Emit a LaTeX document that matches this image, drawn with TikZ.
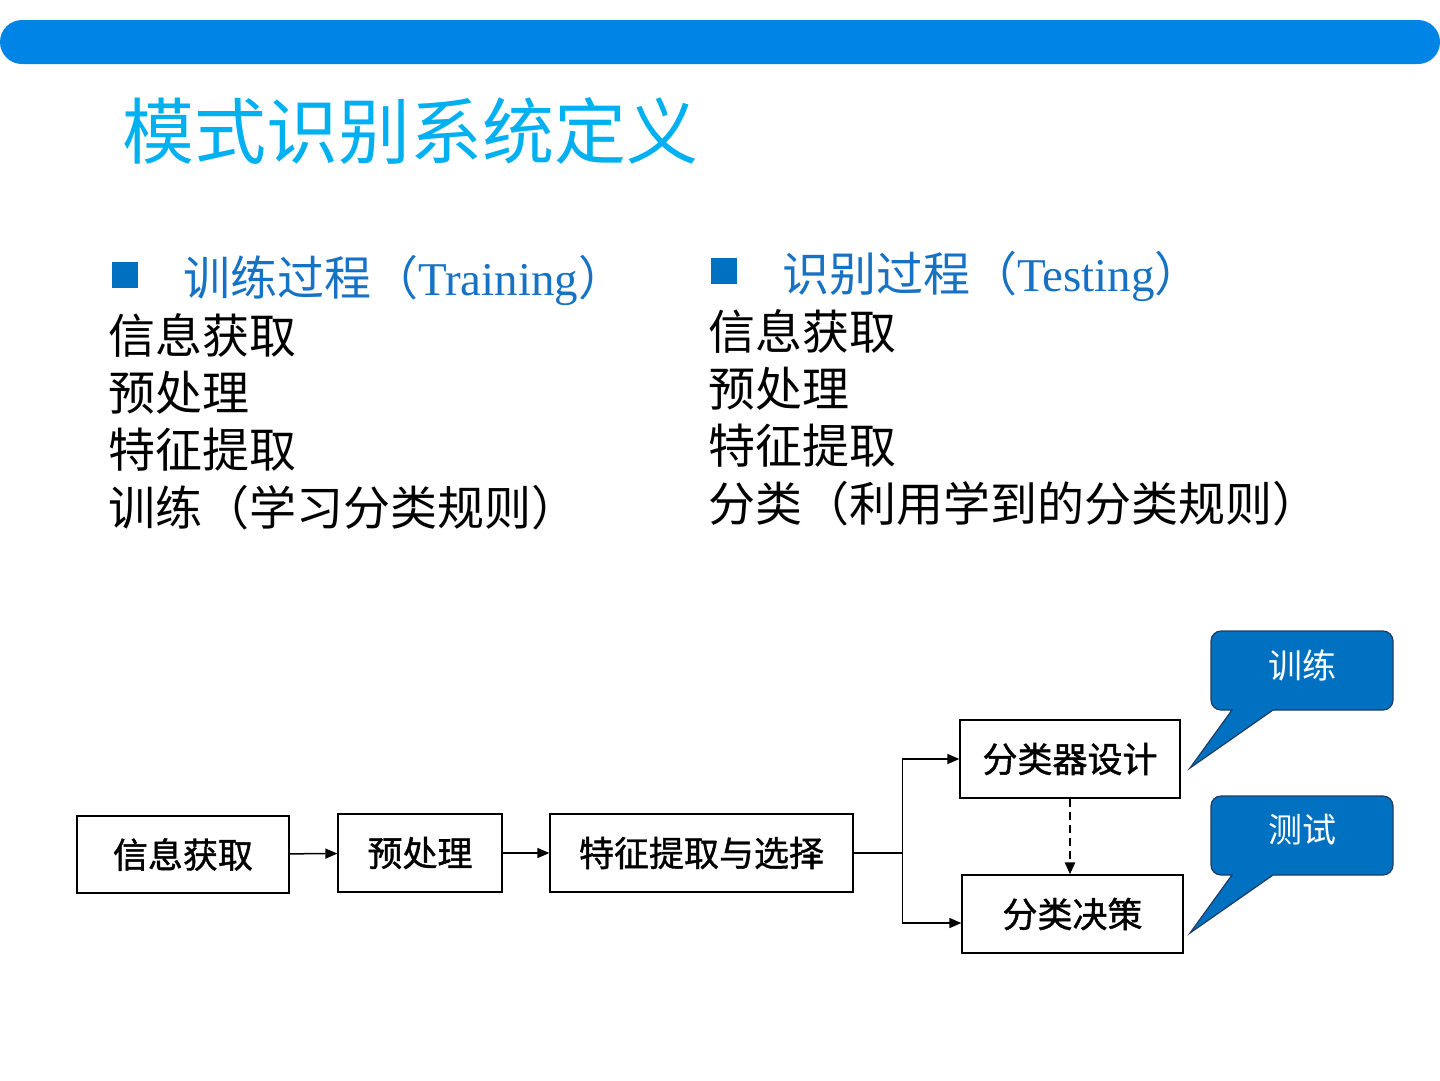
\documentclass[tikz,border=0pt]{standalone}
\usepackage{fontspec}
\setmainfont{Liberation Serif}
\newfontfamily\cjk{Noto Sans CJK SC}
\newfontfamily\cjkmid{Noto Sans CJK SC}[FakeBold=1.2]
\usetikzlibrary{arrows.meta,positioning}
\definecolor{barblue}{RGB}{0,132,230}
\definecolor{titleblue}{RGB}{0,176,240}
\definecolor{headblue}{RGB}{22,114,196}
\definecolor{tipblue}{RGB}{0,112,192}
\definecolor{tipedge}{RGB}{30,60,100}
\newcommand{\listfont}{\cjk\fontsize{47}{57}\selectfont}
\newcommand{\boxfont}{\cjkmid\fontsize{35}{42}\selectfont}

\tikzset{
  stage/.style={draw,line width=1.3pt,inner sep=0pt,font=\boxfont},
  item/.style={anchor=west,inner sep=0pt,font=\listfont},
  head/.style={item,text=headblue},
  bullet/.style={fill=tipblue,inner sep=0pt,minimum size=26pt},
  flow/.style={-{Triangle[length=12pt,width=10pt]},line width=1.5pt},
  callout/.style={draw=tipedge,fill=tipblue,line width=1.2pt},
  tiptext/.style={text=white,inner sep=0pt,font=\cjk\fontsize{34}{40}\selectfont},
}

\begin{document}
\begin{tikzpicture}[x=1pt,y=-1pt]
  \useasboundingbox (0,0) rectangle (1440,1080);
  % top band and title
  \fill[barblue,rounded corners=22] (0,20) rectangle (1440,64);
  \node[item,text=titleblue,font=\cjk\fontsize{72}{80}\selectfont] (title) at (122,131) {模式识别系统定义};

  % training column
  \node[bullet] (bulletL) at (125,275) {};
  \node[head] (headL) at (183,280) {训练过程（{\rmfamily Training}）};
  \node[item] (l1) at (108,335) {信息获取};
  \node[item] (l2) at (108,393) {预处理};
  \node[item] (l3) at (108,450) {特征提取};
  \node[item] (l4) at (108,508) {训练（学习分类规则）};

  % testing column
  \node[bullet] (bulletR) at (723.5,270.5) {};
  \node[head] (headR) at (782,276) {识别过程（{\rmfamily Testing}）};
  \node[item] (r1) at (708,331) {信息获取};
  \node[item] (r2) at (708,389) {预处理};
  \node[item] (r3) at (708,446) {特征提取};
  \node[item] (r4) at (708,504) {分类（利用学到的分类规则）};

  % block diagram
  \node[stage,minimum width=212,minimum height=77] (acquire) at (183,854.5) {信息获取};
  \node[stage,minimum width=164,minimum height=78] (prep) at (420,853) {预处理};
  \node[stage,minimum width=303,minimum height=78] (feature) at (701.5,853) {特征提取与选择};
  \node[stage,minimum width=220,minimum height=78] (design) at (1070,759) {分类器设计};
  \node[stage,minimum width=221,minimum height=78] (decide) at (1072.5,914) {分类决策};

  \draw[flow] (acquire) -- (prep);
  \draw[flow] (prep) -- (feature);
  \draw[line width=1.5pt] (feature.east) -- ++(49,0) coordinate (split);
  \draw[flow] (split) |- (design);
  \draw[flow] (split) |- ([yshift=-9pt]decide.west);
  \draw[flow,line width=2.5pt,dash pattern=on 8pt off 5pt] (design.south) -- (design.south |- decide.north);

  % callouts
  \draw[callout] (1302,631) [rounded corners=10] -- (1393,631) -- (1393,710) -- (1290,710)
    [sharp corners] -- (1273,710) -- (1190,768) -- (1232,710) -- (1225,710)
    [rounded corners=10] -- (1211,710) -- (1211,631) -- cycle;
  \node[tiptext] (train) at (1302,665) {训练};
  \draw[callout] (1302,796) [rounded corners=10] -- (1393,796) -- (1393,875) -- (1290,875)
    [sharp corners] -- (1273,875) -- (1190,933) -- (1232,875) -- (1225,875)
    [rounded corners=10] -- (1211,875) -- (1211,796) -- cycle;
  \node[tiptext] (test) at (1302,830) {测试};
\end{tikzpicture}
\end{document}
